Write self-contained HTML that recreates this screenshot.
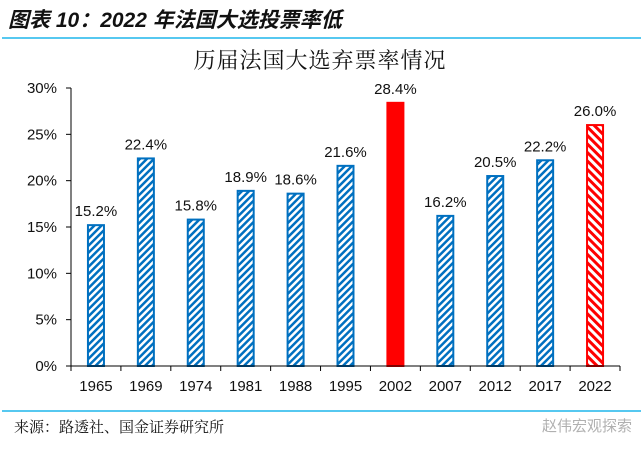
<!DOCTYPE html>
<html><head><meta charset="utf-8"><style>
body{margin:0;background:#fff;width:641px;height:448px;overflow:hidden}
text{font-family:"Liberation Sans","Noto Sans CJK SC",sans-serif}
</style></head><body>
<svg id="c" width="641" height="448" xmlns="http://www.w3.org/2000/svg">
<defs>
<pattern id="hb" width="5" height="5" patternUnits="userSpaceOnUse" patternTransform="rotate(45)"><rect width="5" height="5" fill="#fff"/><rect width="2.5" height="5" fill="#0070c0"/></pattern>
<pattern id="hr" width="6" height="6" patternUnits="userSpaceOnUse" patternTransform="rotate(-45)"><rect width="6" height="6" fill="#fff"/><rect width="3" height="6" fill="#ff0000"/></pattern>
</defs>
<text x="8" y="27" font-size="21" font-weight="bold" font-style="italic" fill="#111">图表 10：2022 年法国大选投票率低</text>
<line x1="2" y1="38" x2="641" y2="38" stroke="#1fb5ec" stroke-width="1.5"/>
<text x="320" y="68" font-size="22" text-anchor="middle" letter-spacing="1" fill="#111" style='font-family:"Noto Serif CJK SC",serif'>历届法国大选弃票率情况</text>
<g id="plot"></g>
<line x1="2" y1="411" x2="641" y2="411" stroke="#1fb5ec" stroke-width="1.5"/>
<text x="14" y="432" font-size="15" fill="#111" style='font-family:"Noto Serif CJK SC",serif'>来源：路透社、国金证券研究所</text>
<text x="632" y="431" font-size="15" fill="#b0b0b0" text-anchor="end" style='font-family:"Noto Sans CJK SC",sans-serif'>赵伟宏观探索</text>
</svg>
<script>
const categories=["1965","1969","1974","1981","1988","1995","2002","2007","2012","2017","2022"];
const values=[15.2,22.4,15.8,18.9,18.6,21.6,28.4,16.2,20.5,22.2,26.0];
const styles=["b","b","b","b","b","b","s","b","b","b","r"];
const yTicks=[0,5,10,15,20,25,30];
const X0=71,X1=620,Y0=366,YT=88,YMAX=30;
const cw=(X1-X0)/categories.length;
const y=v=>Y0-(v/YMAX)*(Y0-YT);
const xc=i=>X0+cw*(i+0.5);
const ns="http://www.w3.org/2000/svg";
const g=document.getElementById('plot');
function mk(t,a){const e=document.createElementNS(ns,t);for(const k in a)e.setAttribute(k,a[k]);g.appendChild(e);return e;}
yTicks.forEach(t=>{
const l=mk('line',{x1:X0-5,x2:X0,y1:y(t),y2:y(t),stroke:'#000'});


const tx=mk('text',{x:X0-14,y:y(t)+5,'font-size':15,'text-anchor':'end',fill:'#111'});tx.textContent=t+'%';


});
categories.forEach((c,i)=>{
const v=values[i],s=styles[i],bw=16;
const fill=s==='b'?'url(#hb)':s==='r'?'url(#hr)':'#ff0000';
const stroke=s==='b'?'#0070c0':'#ff0000';
const r=mk('rect',{x:xc(i)-bw/2,y:y(v),width:bw,height:Y0-y(v),fill:fill,stroke:stroke,'stroke-width':2});


const lb=mk('text',{x:xc(i),y:y(v)-9,'font-size':15,'text-anchor':'middle',fill:'#111'});lb.textContent=v.toFixed(1)+'%';


const xl=mk('text',{x:xc(i),y:Y0+25,'font-size':15,'text-anchor':'middle',fill:'#111'});xl.textContent=c;


const tk=mk('line',{x1:X0+cw*(i+1),x2:X0+cw*(i+1),y1:Y0,y2:Y0+5,stroke:'#000'});


});
const ya=mk('line',{x1:X0,x2:X0,y1:YT,y2:Y0+5,stroke:'#000'});


const xa=mk('line',{x1:X0,x2:X1,y1:Y0,y2:Y0,stroke:'#000'});


</script>
</body></html>
